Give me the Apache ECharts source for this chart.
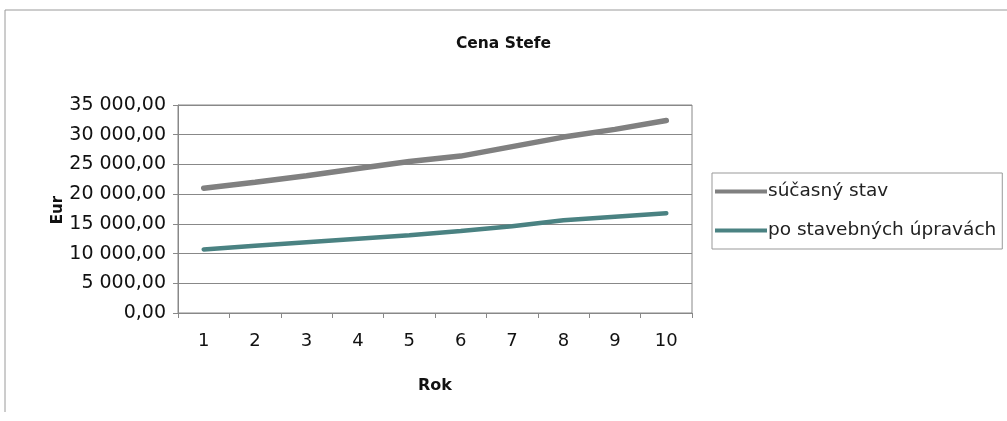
<!DOCTYPE html>
<html>
<head>
<meta charset="utf-8">
<script src="https://cdn.jsdelivr.net/npm/echarts@6/dist/echarts.min.js"></script>
<style>
html,body{margin:0;padding:0;background:#fff;}
#chart{width:1007px;height:421px;}
</style>
</head>
<body>
<div id="chart"></div>
<script>
var categories = ['1','2','3','4','5','6','7','8','9','10'];
var seriesNames = ['súčasný stav', 'po stavebných úpravách'];
var currentState = [21000, 22000, 23100, 24300, 25500, 26400, 28000, 29600, 30900, 32400];
var afterRenovation = [10700, 11300, 11900, 12500, 13100, 13800, 14600, 15600, 16200, 16800];
var titleText = 'Cena Stefe';
var xAxisName = 'Rok';
var yAxisName = 'Eur';

function fmt(v){
  var s = Math.round(v).toString();
  s = s.replace(/\B(?=(\d{3})+(?!\d))/g, ' ');
  return s + ',00';
}

var chart = echarts.init(document.getElementById('chart'), null, {renderer:'canvas'});
var font = '"DejaVu Sans", "Liberation Sans", Arial, sans-serif';
chart.setOption({
  animation:false,
  backgroundColor:'#fff',
  graphic:[
    {type:'polyline', shape:{points:[[5,412],[5,10],[1007,10]]}, style:{stroke:'#9a9a9a', lineWidth:1, fill:null}},
    {type:'text', x:58, y:210, rotation:Math.PI/2,
     style:{text:yAxisName, fontFamily:font, fontSize:15, fontWeight:'bold', fill:'#111', align:'center', verticalAlign:'middle'}}
  ],
  title:{
    text:titleText, left:'center', top:31,
    textStyle:{fontFamily:font, fontSize:15.5, fontWeight:'bold', color:'#111'}
  },
  legend:{
    orient:'vertical', left:712, top:173,
    data:[{name:seriesNames[0], icon:'rect'},{name:seriesNames[1], icon:'rect'}],
    borderColor:'#999', borderWidth:1,
    padding:[9,6,9,3], itemGap:20,
    itemWidth:52, itemHeight:4,
    textStyle:{fontFamily:font, fontSize:18.5, color:'#222', padding:[0,0,0,-4]}
  },
  grid:{left:178, top:105, width:514, height:208, show:true, borderColor:'#888', borderWidth:1},
  xAxis:{
    type:'category', data:categories, boundaryGap:true,
    name:xAxisName, nameLocation:'middle', nameGap:65,
    nameTextStyle:{fontFamily:font, fontSize:16, fontWeight:'bold', color:'#111'},
    axisLine:{lineStyle:{color:'#888'}},
    axisTick:{show:true, length:5, lineStyle:{color:'#888'}},
    axisLabel:{fontFamily:font, fontSize:18, color:'#111', margin:19}
  },
  yAxis:{
    type:'value', min:0, max:35000, interval:5000,
    axisLine:{show:true, lineStyle:{color:'#888'}},
    axisTick:{show:true, length:5, lineStyle:{color:'#888'}},
    splitLine:{show:true, lineStyle:{color:'#888', width:1}},
    axisLabel:{fontFamily:font, fontSize:19, color:'#111', margin:12, formatter:fmt}
  },
  series:[
    {name:seriesNames[0], type:'line', data:currentState, symbol:'none',
     lineStyle:{color:'#808080', width:5.5, cap:'round'}, itemStyle:{color:'#808080'}},
    {name:seriesNames[1], type:'line', data:afterRenovation, symbol:'none',
     lineStyle:{color:'#4a8282', width:4.5, cap:'round'}, itemStyle:{color:'#4a8282'}}
  ]
});
</script>
</body>
</html>
